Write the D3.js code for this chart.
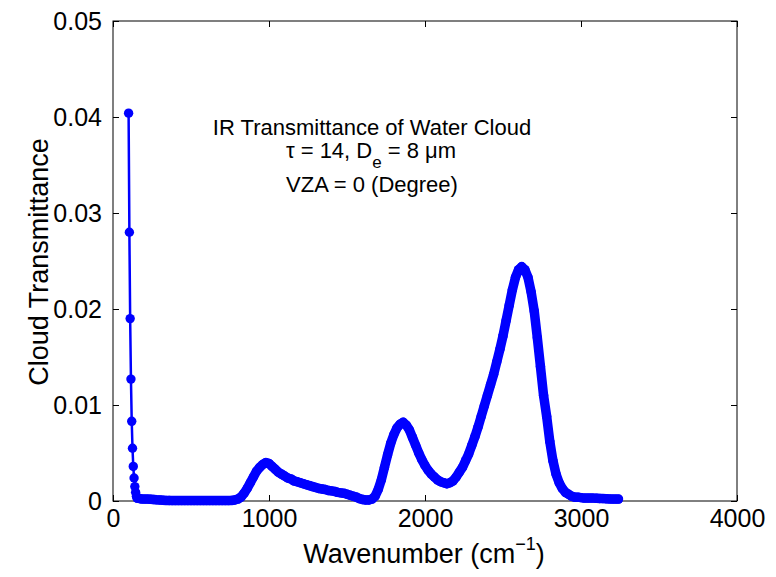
<!DOCTYPE html>
<html>
<head>
<meta charset="utf-8">
<script src="https://cdn.jsdelivr.net/npm/d3@7"></script>
<style>
  body { margin: 0; background: #fff; }
  text { font-family: "Liberation Sans", Arial, Helvetica, sans-serif; }
</style>
</head>
<body>
<div id="chart-area"></div>
<script>
let width = 776,
    height = 577;

// steep far-IR tail (5 cm-1 spacing)
let headWavenumbers = [100, 105, 110, 115, 120, 125, 130, 135, 140, 145, 150, 155];
let headValues = [0.0404, 0.0280, 0.0190, 0.0127, 0.0083, 0.0055, 0.0036, 0.0024, 0.0015, 0.0009, 0.0005, 0.0003];

// rest of the spectrum, 20 cm-1 grid starting at 160
let gridStart = 160, gridStep = 20;
let transmittance = [
  0.0003, 0.00022, 0.0002, 0.0002, 0.00018, 0.00015, 0.00012, 0.0001, 0.00008, 0.00006,
  0.00005, 0.00004, 0.00004, 0.00004, 0.00004, 0.00004, 0.00004, 0.00004, 0.00004, 0.00004,
  0.00004, 0.00004, 0.00004, 0.00004, 0.00004, 0.00004, 0.00004, 0.00004, 0.00004, 0.00004,
  0.00006, 0.0001, 0.0002, 0.0004, 0.0008, 0.0013, 0.0019, 0.0025, 0.0031, 0.0035,
  0.0038, 0.0040, 0.0039, 0.0036, 0.0033, 0.0030, 0.0028, 0.0026, 0.0024, 0.0023,
  0.0021, 0.0020, 0.0019, 0.0018, 0.0017, 0.0016, 0.0015, 0.0014, 0.0013, 0.00125,
  0.0012, 0.0011, 0.00105, 0.0010, 0.0009, 0.00085, 0.0008, 0.0007, 0.0006, 0.0005,
  0.0004, 0.00025, 0.00015, 0.0001, 0.0001, 0.0002, 0.0005, 0.0012, 0.0022, 0.0035,
  0.0048, 0.0060, 0.0069, 0.0076, 0.0080, 0.0082, 0.0079, 0.0074, 0.0066, 0.0058,
  0.0050, 0.0043, 0.0037, 0.0032, 0.0028, 0.0025, 0.0022, 0.0020, 0.0019, 0.0018,
  0.0019, 0.0021, 0.0025, 0.0030, 0.0035, 0.0042, 0.0049, 0.0058, 0.0067, 0.0077,
  0.0088, 0.0099, 0.0110, 0.0121, 0.0132, 0.0145, 0.0158, 0.0172, 0.0188, 0.0204,
  0.0220, 0.0233, 0.0241, 0.0244, 0.0241, 0.0233, 0.0218, 0.0198, 0.0170, 0.0140,
  0.0110, 0.0088, 0.0062, 0.0042, 0.0028, 0.0019, 0.0013, 0.0009, 0.0007, 0.0005,
  0.0004, 0.0004, 0.00035, 0.0003, 0.0003, 0.0003, 0.0003, 0.00028, 0.00026, 0.00025,
  0.00024, 0.00022, 0.0002, 0.0002, 0.0002
];

let xTicks = [0, 1000, 2000, 3000, 4000];
let yTicks = [0, 0.01, 0.02, 0.03, 0.04, 0.05];
let noteLines = ["IR Transmittance of Water Cloud", "VZA = 0 (Degree)"];

let blue = "#0000ff";

let head = headWavenumbers.map((w, i) => ({w: w, v: headValues[i]}));
let main = transmittance.map((v, i) => ({w: gridStart + i * gridStep, v: v}));
let all = head.concat(main);

let svg = d3.select("#chart-area").append("svg")
    .attr("width", width)
    .attr("height", height);

let mLeft = 113, mRight = 737, mTop = 21, mBottom = 501;

let x = d3.scaleLinear().domain([0, 4000]).range([mLeft, mRight]);
let y = d3.scaleLinear().domain([0, 0.05]).range([mBottom, mTop]);

// frame
svg.append("rect")
    .attr("x", mLeft).attr("y", mTop)
    .attr("width", mRight - mLeft).attr("height", mBottom - mTop)
    .attr("fill", "none").attr("stroke", "#000").attr("stroke-width", 1);

let yFmt = d => d === 0 ? "0" : d3.format(".2f")(d);

svg.append("g")
    .attr("transform", `translate(0,${mBottom})`)
    .call(d3.axisBottom(x).tickValues(xTicks).tickSizeInner(-6).tickSizeOuter(0).tickPadding(8).tickFormat(d3.format("d")))
    .call(g => g.select(".domain").remove());
svg.append("g")
    .attr("transform", `translate(0,${mTop})`)
    .call(d3.axisTop(x).tickValues(xTicks).tickSizeInner(-6).tickSizeOuter(0).tickFormat(""))
    .call(g => g.select(".domain").remove());
svg.append("g")
    .attr("transform", `translate(${mLeft},0)`)
    .call(d3.axisLeft(y).tickValues(yTicks).tickSizeInner(-6).tickSizeOuter(0).tickPadding(11).tickFormat(yFmt))
    .call(g => g.select(".domain").remove());
svg.append("g")
    .attr("transform", `translate(${mRight},0)`)
    .call(d3.axisRight(y).tickValues(yTicks).tickSizeInner(-6).tickSizeOuter(0).tickFormat(""))
    .call(g => g.select(".domain").remove());

svg.selectAll(".tick text")
    .attr("font-size", 25)
    .attr("fill", "#000")
    .style("font-family", "'Liberation Sans', Arial, sans-serif");
svg.selectAll(".tick line").attr("stroke", "#000");

// axis labels
let xl = svg.append("text")
    .attr("x", 424).attr("y", 563)
    .attr("text-anchor", "middle")
    .attr("font-size", 27);
xl.append("tspan").text("Wavenumber (cm");
xl.append("tspan").attr("font-size", 18).attr("dy", -13).text("\u22121");
xl.append("tspan").attr("dy", 13).text(")");

svg.append("text")
    .attr("transform", "translate(48,262) rotate(-90)")
    .attr("text-anchor", "middle")
    .attr("font-size", 27)
    .text("Cloud Transmittance");

// annotation
svg.append("text")
    .attr("x", 372).attr("y", 135)
    .attr("text-anchor", "middle")
    .attr("font-size", 22)
    .text(noteLines[0]);
let l2 = svg.append("text")
    .attr("x", 371).attr("y", 158)
    .attr("text-anchor", "middle")
    .attr("font-size", 22);
l2.append("tspan").text("\u03c4 = 14, D");
l2.append("tspan").attr("dy", 10).attr("font-size", 17).text("e");
l2.append("tspan").attr("dy", -10).text(" = 8 \u03bcm");
svg.append("text")
    .attr("x", 372).attr("y", 192)
    .attr("text-anchor", "middle")
    .attr("font-size", 22)
    .text(noteLines[1]);

// series
let line = d3.line().x(d => x(d.w)).y(d => y(d.v));

svg.append("path")
    .datum([head[head.length - 1]].concat(main))
    .attr("d", line)
    .attr("fill", "none")
    .attr("stroke", blue)
    .attr("stroke-width", 9.5)
    .attr("stroke-linejoin", "round")
    .attr("stroke-linecap", "round");

svg.append("path")
    .datum(all)
    .attr("d", line)
    .attr("fill", "none")
    .attr("stroke", blue)
    .attr("stroke-width", 2.5);

svg.selectAll(".dot")
    .data(all)
    .enter().append("circle")
    .attr("class", "dot")
    .attr("cx", d => x(d.w))
    .attr("cy", d => y(d.v))
    .attr("r", 4.7)
    .attr("fill", blue);
</script>
</body>
</html>
